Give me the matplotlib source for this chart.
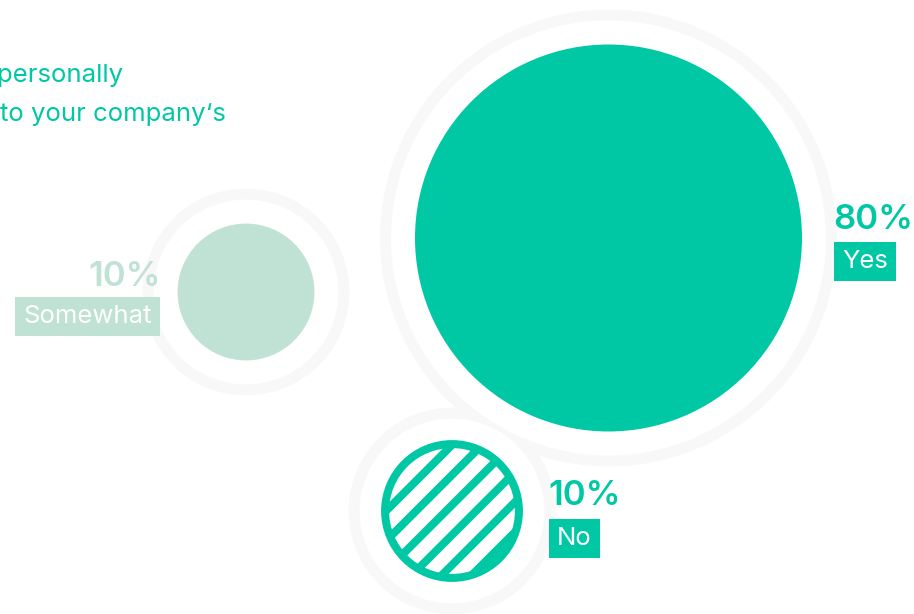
import numpy as np
import matplotlib.pyplot as plt
from matplotlib.patches import Circle

# survey answers and their share of respondents
answers = ["Yes", "Somewhat", "No"]
shares = [80, 10, 10]

TEAL = "#00c8a5"
MINT = "#c0e2d5"
RING = "#f8f8f8"

# layout in pixel units (y grows downwards)
centers = [(608.5, 238), (246, 292), (452, 511)]
label_x = [833, 161, 548]
label_align = ["left", "right", "left"]
pct_baseline = [229, 286, 505]
tag_baseline = [268, 323, 545]
colors = [TEAL, MINT, TEAL]
hatched = [False, False, True]

scale = 193.5 / np.sqrt(80)  # radius per sqrt(share)
radii = [scale * np.sqrt(v) for v in shares]

plt.rcParams["font.family"] = ["Inter", "DejaVu Sans"]

fig = plt.figure(figsize=(9.14, 6.14), dpi=100)
ax = fig.add_axes([0, 0, 1, 1])
ax.set_xlim(0, 914)
ax.set_ylim(614, 0)
ax.set_aspect("equal")
ax.axis("off")

# halo rings: grey disks first, then white disks, so overlapping rings merge
for (cx, cy), r in zip(centers, radii):
    ax.add_patch(Circle((cx, cy), r + 35, color=RING, lw=0, zorder=1))
for (cx, cy), r in zip(centers, radii):
    ax.add_patch(Circle((cx, cy), r + 24, color="white", lw=0, zorder=2))

for (cx, cy), r, col, hat in zip(centers, radii, colors, hatched):
    if not hat:
        ax.add_patch(Circle((cx, cy), r, color=col, lw=0, zorder=3))
        continue
    edge_w = 8
    disk = Circle((cx, cy), r - 1.5, facecolor="white", edgecolor=col,
                  lw=edge_w * 0.72, zorder=3)
    ax.add_patch(disk)
    # diagonal stripes clipped to the disk
    t = np.array([-r * 1.5, r * 1.5])
    for off in np.arange(-108, 110, 30):
        c = cx + cy + 12 + off
        xs = cx + t
        ys = c - xs
        ln, = ax.plot(xs, ys, color=col, lw=8 * 0.72, solid_capstyle="butt", zorder=4)
        ln.set_clip_path(disk)

for i, name in enumerate(answers):
    col = colors[i]
    ha = label_align[i]
    ax.text(label_x[i], pct_baseline[i], f"{shares[i]}%", color=col,
            fontsize=25, fontweight="semibold", ha=ha, va="baseline", zorder=6)
    pad_px = 9
    tx = label_x[i] + pad_px if ha == "left" else label_x[i] - pad_px
    ax.text(tx, tag_baseline[i], name, color="white", fontsize=18.5,
            fontweight="normal", ha=ha, va="baseline", zorder=6,
            bbox=dict(boxstyle="square,pad=0.32", fc=col, ec="none"))

ax.text(-3, 82, "personally", color=TEAL, fontsize=18.5, ha="left", va="baseline")
ax.text(0, 121, "to your company\u2018s", color=TEAL, fontsize=18.5, ha="left", va="baseline")

fig.savefig("out.png", dpi=100)
